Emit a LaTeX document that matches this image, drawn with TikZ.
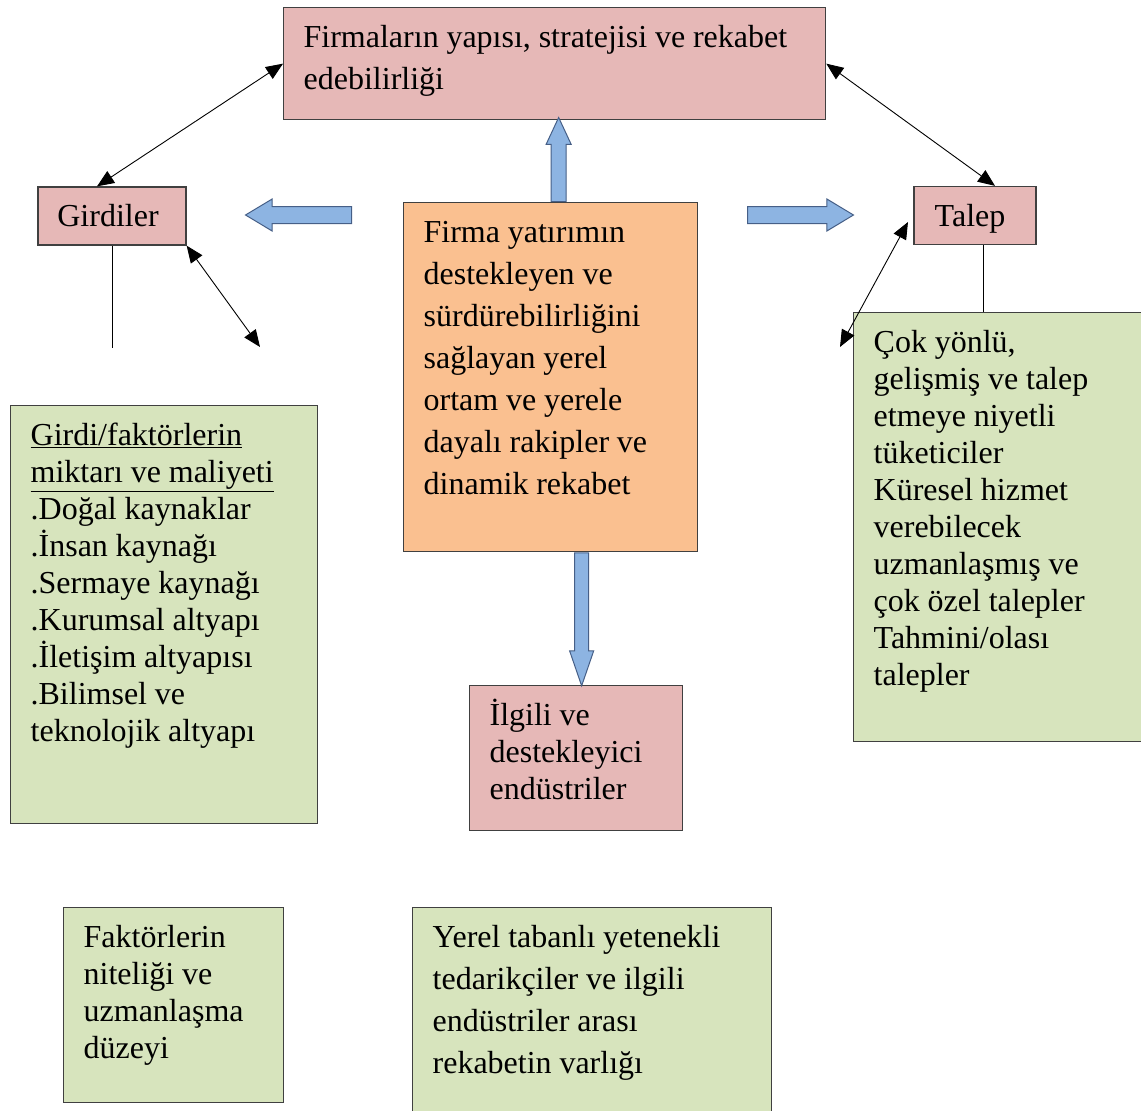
\documentclass[tikz,border=0pt]{standalone}
\usepackage{fontspec}
\setmainfont{Liberation Serif}
\usetikzlibrary{arrows.meta,shapes.arrows}

\begin{document}
\begin{tikzpicture}[x=1pt,y=-1pt]
% Colors
\definecolor{edgeColor}{RGB}{64,64,64}
\definecolor{pinkFill}{RGB}{230,184,183}
\definecolor{orangeFill}{RGB}{250,192,144}
\definecolor{greenFill}{RGB}{215,228,189}
\definecolor{blueFill}{RGB}{141,180,226}
\definecolor{blueEdge}{RGB}{70,95,135}
\tikzset{
  box/.style={draw=edgeColor, line width=1.3pt, anchor=north west,
    inner xsep=20pt, inner ysep=0pt, align=left, text height=40pt,
    font=\fontsize{32}{37}\selectfont,
    execute at begin node={\spaceskip=7.8pt\relax}},
  wide/.style={font=\fontsize{32}{42}\selectfont},
  tag/.style={draw=edgeColor, fill=pinkFill, line width=1.3pt,
    minimum height=58pt, text height=21pt, text depth=0pt,
    font=\fontsize{32}{37}\selectfont},
  fat/.style={single arrow, draw=blueEdge, fill=blueFill, line width=1pt,
    anchor=tail},
  link/.style={{Triangle[length=17pt,width=14pt]}-{Triangle[length=17pt,width=14pt]},
    line width=0.9pt},
  plain/.style={line width=0.9pt},
}
\useasboundingbox (0,0) rectangle (1141,1111);
\clip (0,0) rectangle (1141,1111);
% Boxes
\node[box, wide, fill=pinkFill, text width=502pt, text depth=72pt] (firm) at (283,7)
  {Firmaların yapısı, stratejisi ve rekabet\\edebilirliği};
\node[tag, minimum width=148pt] (girdi) at (112,216) {Girdiler\hspace*{8pt}};
\node[tag, minimum width=122pt] (talep) at (975,215.5) {Talep\hspace*{10pt}};
\node[box, wide, fill=orangeFill, text width=254pt, text depth=309pt] (orange) at (403,202)
  {Firma yatırımın\\destekleyen ve\\sürdürebilirliğini\\sağlayan yerel\\ortam ve yerele\\dayalı rakipler ve\\dinamik rekabet};
\node[box, fill=greenFill, text width=267pt, text depth=378pt] (factor) at (10,405)
  {\underline{Girdi/faktörlerin}\\\underline{miktarı ve maliyeti}\\.Doğal kaynaklar\\.İnsan kaynağı\\.Sermaye kaynağı\\.Kurumsal altyapı\\.İletişim altyapısı\\.Bilimsel ve\\teknolojik altyapı};
\node[box, fill=greenFill, text width=262pt, text depth=389pt] (demand) at (853,312)
  {Çok yönlü,\\gelişmiş ve talep\\etmeye niyetli\\tüketiciler\\Küresel hizmet\\verebilecek\\uzmanlaşmış ve\\çok özel talepler\\Tahmini/olası\\talepler};
\node[box, fill=pinkFill, text width=173pt, text depth=105pt] (ilgili) at (469,685)
  {İlgili ve\\destekleyici\\endüstriler};
\node[box, fill=greenFill, text width=180pt, text depth=155pt] (nitelik) at (63,907)
  {Faktörlerin\\niteliği ve\\uzmanlaşma\\düzeyi};
\node[box, wide, fill=greenFill, text width=319pt, text depth=175pt] (tedarik) at (412,907)
  {Yerel tabanlı yetenekli\\tedarikçiler ve ilgili\\endüstriler arası\\rekabetin varlığı};
% Block arrows
\node[fat, inner sep=8pt, minimum height=106pt, single arrow head extend=7.5pt,
  single arrow tip angle=62, shape border rotate=180] (toGirdi) at (352,215) {};
\node[fat, inner sep=8pt, minimum height=106pt, single arrow head extend=7.5pt,
  single arrow tip angle=62] (toTalep) at (747,215) {};
\node[fat, inner sep=7pt, minimum height=84pt, single arrow head extend=5pt,
  single arrow tip angle=50, shape border rotate=90] (toFirm) at ([xshift=8pt]orange.north) {};
\node[fat, inner sep=6.5pt, minimum height=133pt, single arrow head extend=5pt,
  single arrow tip angle=38, shape border rotate=270] (toIlgili) at ([xshift=31pt]orange.south) {};
% Thin connectors
\coordinate (girdiEnd) at (260,347);
\coordinate (talepTip) at (908,222);
\coordinate (demandTip) at (840,347);
\draw[link] (firm.west) -- ([xshift=-15pt]girdi.north);
\draw[link] (girdi.south east) -- (girdiEnd);
\draw[link] (firm.east) -- ([xshift=20pt]talep.north);
\draw[link] (talepTip) -- (demandTip);
\draw[plain] (girdi.south) -- ++(0,102);
\draw[plain] ([xshift=8pt]talep.south) -- ([xshift=8pt]talep.south |- demand.north);
\end{tikzpicture}
\end{document}
